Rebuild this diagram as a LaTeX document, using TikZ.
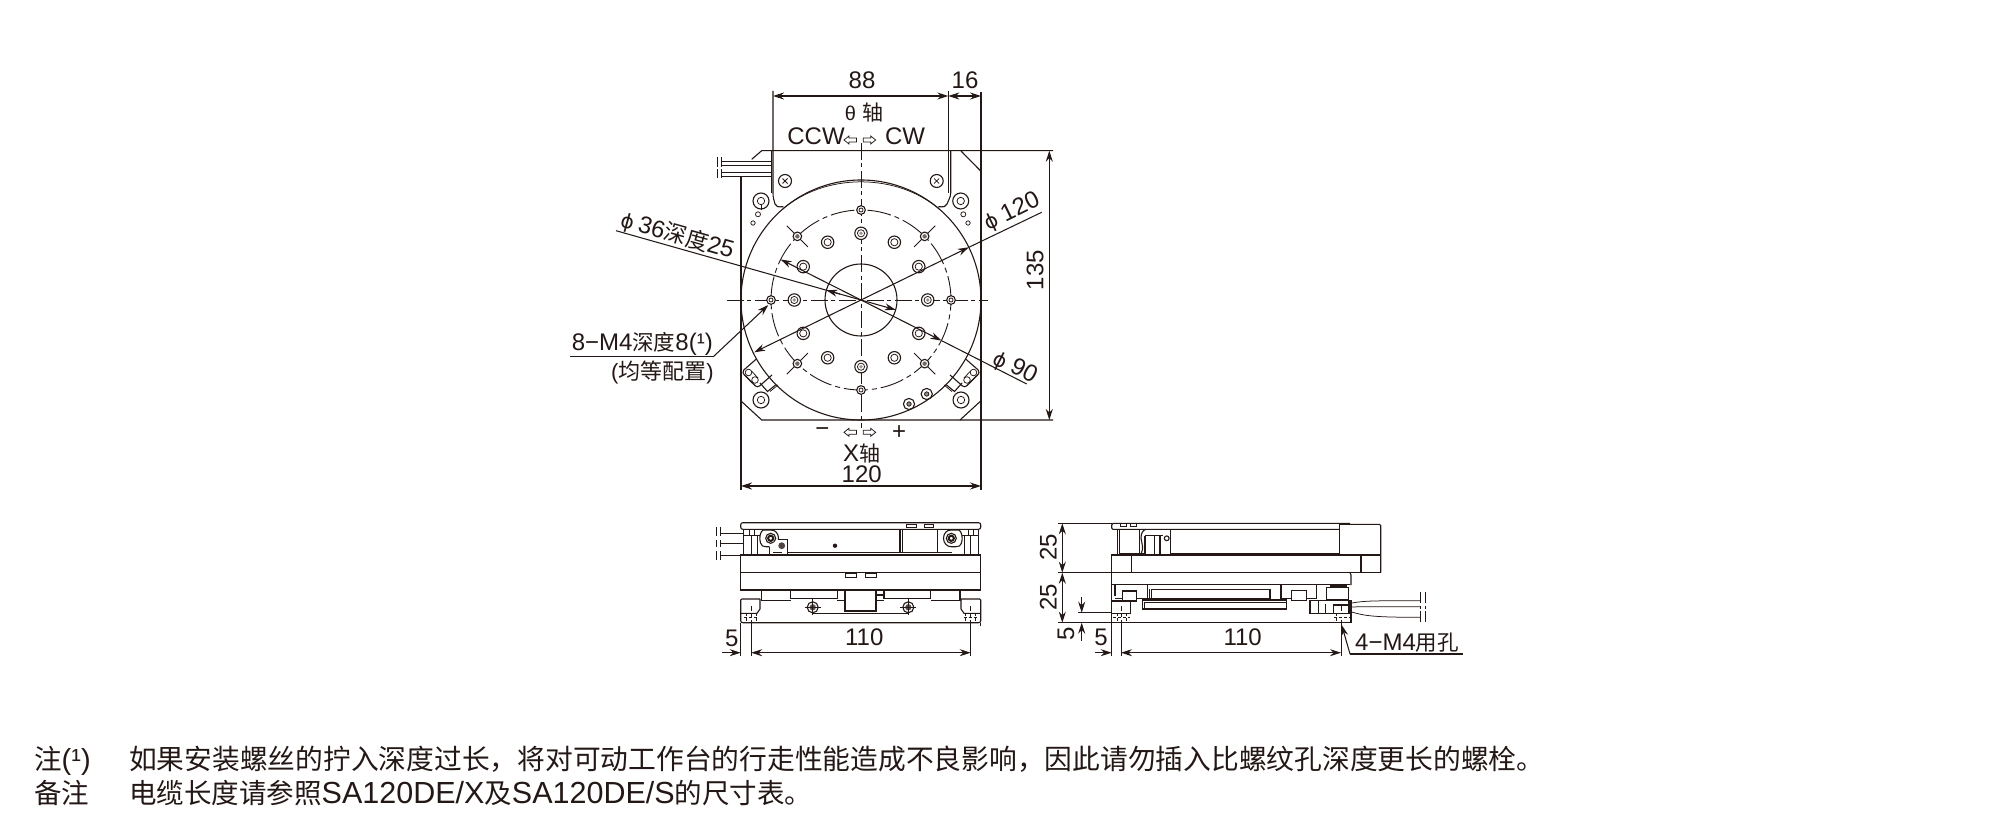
\documentclass[tikz,border=0pt]{standalone}
\usepackage{fontspec}
\setmainfont{Liberation Sans}
\newfontfamily\cjk{Noto Sans CJK SC}
\newfontfamily\phifont{DejaVu Sans}
\usetikzlibrary{arrows.meta}
\definecolor{ink}{HTML}{231815}
\newcommand\zhs[2]{{\fontsize{#1}{#1}\selectfont\cjk #2}}
\newcommand\lat[2]{{\fontsize{#1}{#1}\selectfont #2}}
\newcommand\PHI{{\fontsize{20}{20}\selectfont\phifont ϕ}}
\tikzset{
  part/.style={draw=ink,line width=1.1pt},
  thin part/.style={draw=ink,line width=.75pt},
  bold part/.style={draw=ink,line width=2pt},
  dimline/.style={draw=ink,line width=1.05pt},
  both/.style={dimline,{Stealth[length=11pt,width=7pt]}-{Stealth[length=11pt,width=7pt]}},
  tip/.style={dimline,-{Stealth[length=11pt,width=7pt]}},
  centre/.style={draw=ink,line width=.9pt,dash pattern=on 17pt off 3.5pt on 4pt off 3.5pt},
  circ dash/.style={draw=ink,line width=.9pt,dash pattern=on 24pt off 4pt on 5pt off 4pt},
  lab/.style={inner sep=0pt,text=ink,font=\fontsize{24}{24}\selectfont},
  note/.style={inner sep=0pt,text=ink,anchor=base west,font=\fontsize{27.5}{27.5}\selectfont},
}
\newcommand\harrowL[2]{\draw[thin part] (#1,#2) -- ++(5,-4) -- ++(0,2) -- ++(7.5,0) -- ++(0,4) -- ++(-7.5,0) -- ++(0,2) -- cycle;}
\newcommand\harrowR[2]{\draw[thin part] (#1,#2) -- ++(-5,-4) -- ++(0,2) -- ++(-7.5,0) -- ++(0,4) -- ++(7.5,0) -- ++(0,2) -- cycle;}
\begin{document}
\begin{tikzpicture}[x=1pt,y=-1pt]
\useasboundingbox (0,0) rectangle (2000,837);
\fill[white] (0,0) rectangle (2000,837);

%% ---------- top view ----------
% outline
\draw[part] (741,176) -- (741,401);
\draw[part] (981,92) -- (981,490);
\draw[part] (741,401) -- (761.7,420) -- (1053,420);
\draw[part] (960,420) -- (980.7,401);
\draw[part] (1053,150.7) -- (761.7,150.7) -- (751.7,159.3);
\draw[part] (961,151) -- (980.7,171);
\draw[part] (741,401) -- (741,490);
% cables
\foreach \y in {161,165,172,176} \draw[thin part] (722,\y) -- (771,\y);
\foreach \x in {717,721} {\draw[thin part] (\x,157) -- (\x,167.5); \draw[thin part] (\x,169.5) -- (\x,178);}
% bracket
\draw[part] (773,91) -- (773,193) .. controls (773,198) and (774,200) .. (775,204) .. controls (776,207) and (778,207) .. (783.3,206.7);
\draw[thin part] (771,151) -- (771,193);
\draw[part] (948.3,91) -- (948.3,151);
\draw[part] (950.7,151) -- (950.7,193) .. controls (950.7,198) and (948,200) .. (947,204) .. controls (946,207) and (944,207) .. (938.4,206.7);
\draw[thin part] (948.3,151) -- (948.3,193);
\foreach \x in {785,936.7} {
  \draw[part] (\x,181) circle (6.5pt);
  \draw[thin part] (\x-2.5,178.5) -- (\x+2.5,183.5) (\x-2.5,183.5) -- (\x+2.5,178.5);
}
% main circles
\draw[part] (861,300) circle (120pt);
\draw[thin part] (782.5,209.2) .. controls (803,192) and (830,182) .. (861,181.8) .. controls (892,182) and (919,192) .. (939.5,209.2);
\draw[circ dash] (861,300) circle (90pt);
\draw[part] (861,300) circle (36pt);
% centre lines
\draw[centre] (726.7,300) -- (988,300);
\draw[centre] (861,143) -- (861,428);
% corner holes
\foreach \x/\y in {761/201,960.7/201,761/400,961/400} {
  \draw[part,fill=white] (\x,\y) circle (8pt);
  \draw[thin part] (\x,\y) circle (3.7pt);
}
\draw[thin part] (761,205) -- (761,210);
\draw[thin part] (758,214.3) circle (2.5pt) (753,223) circle (2.2pt) (963.3,214.3) circle (2.5pt) (968,223) circle (2.2pt);
% radial crosses
\begin{scope}[shift={(861,300)}]
\foreach \a in {45,135,225,315} \draw[thin part] (\a:75) -- (\a:105);
\foreach \a in {0,30,...,330} {
  \draw[part,fill=white] (\a:66.7) circle (6.2pt);
  \draw[thin part] (\a:66.7) circle (3.6pt);
}
\foreach \a in {0,90,180,270} {
  \fill[ink!45] (\a:66.7) circle (1.9pt);
}
\foreach \a in {0,90,180,270} {
  \draw[part,fill=white] (\a:90) circle (4.3pt);
  \draw[thin part] (\a:90) circle (2pt);
}
\foreach \a in {45,135,225,315} {
  \draw[part,fill=white] (\a:90) circle (4.3pt);
  \fill[ink!65] (\a:90) circle (2.2pt);
}
\end{scope}
% extra lower-right holes
\foreach \x/\y in {909/404,926.7/394} {
  \draw[part] (\x,\y) circle (5.6pt);
  \draw[thin part,fill=ink!50] (\x,\y) circle (2.2pt);
}
% limit switches
\foreach \tr in {{shift={(0,0)}},{shift={(1722,0)},xscale=-1}} {
\begin{scope}[style/.expand once=\tr]
  \draw[part] (756,359.3) -- (743.8,370) .. controls (742.5,372) and (743,373.5) .. (744,374.5) -- (755.5,386) .. controls (757,387) and (758,387) .. (759.5,386) -- (772,375);
  \draw[part] (760,383) -- (767.5,391.5) -- (776,384.6);
  \draw[thin part] (770,391.5) -- (778,385);
  \draw[thin part] (748.5,372.5) circle (3.3pt) (755,380) circle (3.3pt);
  \draw[thin part] (751.5,371) -- (758,378) (746,376) -- (752,383);
\end{scope}
}
% hollow arrows
\harrowL{844}{140}\harrowR{875.7}{140}
\harrowL{844}{432.3}\harrowR{875.7}{432.3}
% leaders and dimensions
\draw[both] (773,96) -- (948.3,96);
\draw[both] (948.3,96) -- (981,96);
\draw[both] (1049.3,150.7) -- (1049.3,420);
\draw[both] (741,486) -- (981,486);
% phi 120
\coordinate (p120a) at (754.2,352.3);
\coordinate (p120b) at (968.8,247.3);
\coordinate (p120c) at (1041.7,212.3);
\draw[tip] (861,300) -- (p120a);
\draw[tip] (861,300) -- (p120b);
\draw[dimline] (p120b) -- (p120c);
% phi 90
\coordinate (p90a) at (780.7,259.5);
\coordinate (p90b) at (941.3,340.5);
\coordinate (p90c) at (1026.7,384);
\draw[tip] (861,300) -- (p90a);
\draw[tip] (861,300) -- (p90b);
\draw[dimline] (p90b) -- (p90c);
% phi 36
\coordinate (p36a) at (826.4,290.2);
\coordinate (p36b) at (895.6,309.8);
\coordinate (p36c) at (616,230.7);
\draw[dimline] (p36c) -- (861,300);
\draw[tip] (840,294.1) -- (p36a);
\draw[tip] (861,300) -- (p36b);
% 8-M4
\coordinate (m4a) at (768.3,305);
\coordinate (m4b) at (713.3,356.7);
\coordinate (m4c) at (570,356.7);
\draw[tip] (m4b) -- (m4a);
\draw[dimline] (m4c) -- (m4b);

% labels top view
\node[lab] (t88) at (862,80) {88};
\node[lab] (t16) at (965,80) {16};
\node[lab] (ttheta) at (864,113) {\lat{20}{θ}\hspace{6pt}\zhs{21}{轴}};
\node[lab] (tccw) at (816,136) {CCW};
\node[lab] (tcw) at (905,136) {CW};
\node[lab] (t135) at (1035,270) [rotate=90] {135};
\node[lab] (t120b) at (861.7,474) {120};
\node[lab] (txaxis) at (861.7,453.3) {X\zhs{21}{轴}};
\node[lab] (tminus) at (822.3,432.3) {−};
\node[lab] (tplus) at (899,432.3) {+};
\node[lab] (tp120) at (1012,212) [rotate=26] {\PHI\hspace{6pt}120};
\node[lab] (tp90) at (1015,368) [rotate=-27] {\PHI\hspace{6pt}90};
\node[lab] (tp36) at (677.5,235.5) [rotate=-15.8] {\PHI\hspace{5pt}36\zhs{22.5}{深度}25};
\node[lab,anchor=base east] (tm4) at (713,350) {8−M4\zhs{21.5}{深度}8\lat{24}{(¹)}};
\node[lab,anchor=base east] (tm4b) at (714,379) {\lat{22}{(}\zhs{22}{均等配置}\lat{22}{)}};

%% ---------- front view ----------
% cables
\foreach \y/\e in {533.3/743.3,543.3/743.3,555/741} \draw[thin part] (720.7,\y) -- (\e,\y);
\foreach \x in {716.7,720.7} {
  \draw[thin part] (\x,527) -- (\x,536) (\x,540) -- (\x,547) (\x,551) -- (\x,560);
}
% top plate
\draw[part] (743,522.7) -- (978.5,522.7) .. controls (980,522.7) and (980.7,523.5) .. (980.7,525) -- (980.7,527) .. controls (980.7,528.5) and (980,529.3) .. (978.5,529.3) -- (743,529.3) .. controls (741.5,529.3) and (740.7,528.5) .. (740.7,527) -- (740.7,525) .. controls (740.7,523.5) and (741.5,522.7) .. (743,522.7) -- cycle;
\draw[thin part] (906.7,524) rectangle (916.7,527.3) (924.3,524) rectangle (933.3,527.3);
% lower body
\draw[part] (740.7,555) rectangle (980.7,590);
\draw[part] (740.7,572.7) -- (980.7,572.7);
\draw[thin part] (845.7,573.3) rectangle (856,577.7) (865.7,573.3) rectangle (876,577.7);
% housing
\draw[part] (770,552.7) -- (952,552.7);
\draw[part] (900,529.3) -- (900,552.7);
\draw[part] (902.7,529.3) -- (902.7,552.7);
\draw[part] (937.3,529.3) -- (937.3,552.7);
\fill[ink] (835,545.7) circle (2.2pt);
\foreach \tr in {{shift={(0,0)}},{shift={(1722,0)},xscale=-1}} {
\begin{scope}[style/.expand once=\tr]
  \draw[part] (743.3,530) -- (743.3,555);
  \draw[part] (751.7,535) -- (751.7,555);
  \draw[thin part] (757.7,535) -- (757.7,555);
  \draw[thin part] (743.3,535.5) -- (760,535.5);
  \draw[thin part] (749,530) -- (749,535.5) (754,530) -- (754,535.5);
  \draw[part,fill=white] (763,530) .. controls (760,532) and (759,538) .. (760.5,543) .. controls (761.5,546) and (763,546.7) .. (766,546.7) -- (771,546.7) .. controls (775,546.7) and (778.5,543) .. (778.5,538.3) .. controls (778.5,533) and (775,530) .. (771,530) -- cycle;
  \draw[part] (770.7,538.3) circle (5pt);
  \draw[bold part] (770.7,538.3) circle (2.6pt);
\end{scope}
}
\draw[part,fill=white] (769.3,546.5) -- (769.3,554.3) -- (787.3,554.3) -- (787.3,539.5) -- (777.5,539.5);
\fill[ink!80] (781.7,545.7) circle (3.4pt);
\draw[thin part] (773,552) -- (782,552);
% undercarriage
\draw[part] (761.7,590) -- (761.7,600.7) -- (790.7,600.7);
\draw[part] (960,590) -- (960,600.7) -- (930.7,600.7);
\draw[part] (837.3,600.7) -- (845,600.7) (876,600.7) -- (884,600.7);
\draw[part] (790.7,590) rectangle (837.3,598.5);
\draw[part] (884,590) rectangle (930.7,598.5);
\draw[part] (845,590) rectangle (876,611);
\draw[thin part] (876,590) -- (884,590);
\draw[part] (876,595) -- (884,595);
% base
\draw[part] (760,599) -- (742,599) -- (740.7,600) -- (740.7,620.7) .. controls (740.7,622) and (741.5,622.7) .. (743,622.7) -- (978.5,622.7) .. controls (980,622.7) and (980.7,622) .. (980.7,620.7) -- (980.7,600) -- (979.5,599) -- (961,599);
\draw[part] (760,599) -- (760,609) -- (757,613.3) -- (740.7,613.3);
\draw[part] (961,599) -- (961,609) -- (964,613.3) -- (980.7,613.3);
\foreach \x in {751.2,970.7} {
  \draw[thin part,dashed,dash pattern=on 3pt off 2pt] (\x-5,613.3) -- (\x-5,622.7) (\x+5,613.3) -- (\x+5,622.7) (\x-7,617) -- (\x+7,617);
  \draw[thin part] (\x,606) -- (\x,611) (\x,614) -- (\x,617) (\x,620) -- (\x,626);
}
\draw[thin part] (751.2,626) -- (751.2,656) (970.7,626) -- (970.7,656);
\draw[thin part] (740.7,622.7) -- (740.7,656);
\draw[thin part] (980.7,622.7) -- (980.7,626);
\draw[part] (812.7,613.3) -- (908.3,613.3);
\foreach \x in {812.7,908.3} {
  \draw[part,fill=white] (\x,607.3) circle (5.5pt);
  \fill[ink!75] (\x,607.3) circle (3.2pt);
  \draw[thin part] (\x-8,607.3) -- (\x+8,607.3) (\x,599.3) -- (\x,615.3);
}
% dims front
\draw[tip] (722,652.7) -- (740.7,652.7);
\draw[both] (751.2,652.7) -- (970.7,652.7);
\node[lab] (f5) at (731.7,638.3) {5};
\node[lab] (f110) at (864.3,637.3) {110};

%% ---------- side view ----------
% extension lines
\draw[thin part] (1058.3,523.3) -- (1111.7,523.3);
\draw[thin part] (1058.3,572.7) -- (1111.7,572.7);
\draw[thin part] (1058.3,622.7) -- (1111.7,622.7);
\draw[thin part] (1078,612.7) -- (1111.7,612.7);
\draw[both] (1062.3,523.3) -- (1062.3,572.7);
\draw[both] (1062.3,572.7) -- (1062.3,622.7);
\draw[tip] (1081.7,596.7) -- (1081.7,612.7);
\draw[tip] (1081.7,640.7) -- (1081.7,622.7);
% body
\draw[part] (1113,523.3) -- (1350,523.3) (1113,523.3) .. controls (1112,523.3) and (1111.7,524) .. (1111.7,525) -- (1111.7,528) .. controls (1111.7,529) and (1112,529.3) .. (1113,529.3) -- (1339.3,529.3);
\draw[thin part] (1120.7,523.3) rectangle (1126,526.7) (1130,523.3) rectangle (1136,526.7);
\draw[part] (1339.3,524.3) -- (1379.5,524.3) -- (1380.7,525.5) -- (1380.7,572.7);
\draw[part] (1339.3,524.3) -- (1339.3,555);
\draw[part] (1111.7,555) rectangle (1380.7,572.7);
\draw[part] (1131.7,555) -- (1131.7,572.7);
\draw[part] (1361,555) -- (1361,572.7);
\draw[part] (1117.3,529.3) -- (1117.3,555);
\draw[thin part] (1119.3,529.3) -- (1119.3,555);
\draw[part] (1139.3,529.3) -- (1139.3,555);
\draw[part] (1141,554) .. controls (1144,548) and (1142,545) .. (1141,538) .. controls (1141,533) and (1143,530) .. (1146,529.3);
\draw[part] (1145,535.7) -- (1145,555) (1154.3,535.7) -- (1154.3,555) (1160,535.7) -- (1160,555) (1170.7,529.3) -- (1170.7,555);
\draw[part] (1145,535.7) -- (1163,535.7);
\draw[part] (1166.7,538.3) circle (2.4pt);
\draw[bold part] (1170.7,553.5) -- (1339.3,553.5);
\draw[bold part] (1120,554) -- (1145,554);
% lower block
\draw[part] (1111.7,572.7) -- (1111.7,622.7) -- (1351,622.7) -- (1351,613);
\draw[part] (1111.7,584.7) -- (1350,584.7);
\draw[part] (1350,572.7) .. controls (1351,573) and (1351,574) .. (1351,575) -- (1351,585);
\draw[part] (1115,584.7) -- (1115,596) (1147.3,584.7) -- (1147.3,598.3);
\draw[part] (1122.3,591) rectangle (1136.7,601);
\draw[part] (1115,598.3) -- (1122.3,598.3) (1136.7,598.3) -- (1151.7,598.3);
\draw[part] (1151.7,589.3) rectangle (1270,598.3);
\draw[thin part] (1149.5,589.3) -- (1149.5,598.3);
\draw[part] (1142.3,600) -- (1286.7,600) -- (1286.7,609) -- (1142.3,609) -- cycle;
\draw[thin part] (1144.5,602.3) -- (1286.7,602.3) (1144.5,602.3) -- (1144.5,609);
\draw[part] (1111.7,601) -- (1122.3,601) (1130.7,601) -- (1130.7,613.3) -- (1111.7,613.3);
% right end
\draw[part] (1281,584.7) -- (1281,598.3) -- (1291.7,598.3);
\draw[part] (1291.7,590.7) rectangle (1306.7,600.7);
\draw[part] (1316.7,584.7) -- (1316.7,598.3) -- (1306.7,598.3);
\draw[part] (1326.7,587.3) rectangle (1348.3,600);
\draw[bold part] (1330,586) -- (1346.5,586);
\draw[part] (1310,600.5) rectangle (1351.7,613.3);
\draw[thin part] (1318.3,600.5) -- (1318.3,613.3) (1325,604) -- (1325,613.3);
\draw[part] (1333.3,613.3) -- (1333.3,605) -- (1348.3,605) -- (1348.3,613.3);
\fill[ink] (1348.3,600.5) rectangle (1351.7,613.3);
% holes
\draw[thin part,dash pattern=on 3pt off 2pt] (1117.3,613.3) -- (1117.3,622.7) (1126,613.3) -- (1126,622.7) (1113,617) -- (1130,617);
\draw[thin part,dash pattern=on 3pt off 2pt] (1336,613.3) -- (1336,622.7) (1350,613.3) -- (1350,622.7) (1334,617) -- (1351,617);
\draw[thin part] (1121,606) -- (1121,611) (1121,614) -- (1121,617) (1121,620) -- (1121,656);
\draw[thin part] (1341,604) -- (1341,611) (1341,620) -- (1341,656);
\draw[thin part] (1111.7,622.7) -- (1111.7,656);
% cables
\draw[thin part] (1351.7,603) .. controls (1365,600.7) and (1375,600.7) .. (1420,600.7);
\draw[thin part] (1351.7,607) -- (1362,606.7) -- (1420,606.7);
\draw[thin part] (1351.7,612) .. controls (1365,616) and (1375,617.3) .. (1420,617.3);
\foreach \x in {1420,1425} {
  \draw[thin part] (\x,592) -- (\x,603) (\x,606) -- (\x,608.5) (\x,611) -- (\x,622);
}
% dims side
\draw[tip] (1095,652.7) -- (1111.7,652.7);
\draw[both] (1121,652.7) -- (1341,652.7);
\coordinate (h4a) at (1341.7,625);
\coordinate (h4b) at (1350,654);
\coordinate (h4c) at (1463.3,654);
\draw[tip] (h4b) -- (h4a);
\draw[dimline] (h4b) -- (h4c);
\node[lab] (s25a) at (1048.3,547.3) [rotate=90] {25};
\node[lab] (s25b) at (1048.3,597.3) [rotate=90] {25};
\node[lab] (s5a) at (1066,634) [rotate=90] {5};
\node[lab] (s5b) at (1101,637.3) {5};
\node[lab] (s110) at (1242.7,637.3) {110};
\node[lab,anchor=base west] (s4m4) at (1355,650) {4−M4\zhs{21.5}{用孔}};

%% ---------- notes ----------
\node[note] (n1) at (34,769) {\zhs{27.5}{注}\lat{29}{(¹)}};
\node[note] (n2) at (129,769) {\zhs{27.75}{如果安装螺丝的拧入深度过长，将对可动工作台的行走性能造成不良影响，因此请勿插入比螺纹孔深度更长的螺栓。}};
\node[note] (n3) at (34,803) {\zhs{27.5}{备注}};
\node[note] (n4) at (129,803) {\zhs{27.5}{电缆长度请参照}\lat{30.5}{SA120DE/X}\zhs{27.5}{及}\lat{30.5}{SA120DE/S}\zhs{27.5}{的尺寸表。}};
\end{tikzpicture}
\end{document}
